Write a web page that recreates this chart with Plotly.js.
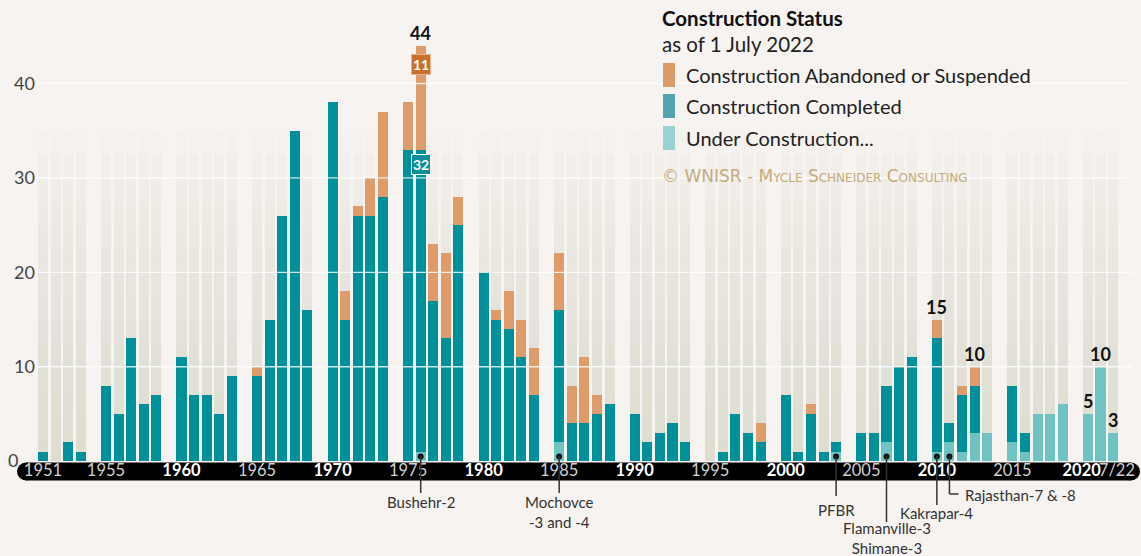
<!DOCTYPE html>
<html>
<head>
<meta charset="utf-8">
<script src="https://cdn.plot.ly/plotly-3.0.1.min.js"></script>
<style>
  html, body { margin: 0; padding: 0; background: #f6f3f1; }
  #plotDiv { width: 1141px; height: 556px; }
</style>
</head>
<body>
<div id="plotDiv"></div>
<script>
// construction starts per year, split by status (as of 1 July 2022)
var years = [1951,1952,1953,1954,1955,1956,1957,1958,1959,
             1960,1961,1962,1963,1964,1965,1966,1967,1968,1969,
             1970,1971,1972,1973,1974,1975,1976,1977,1978,1979,
             1980,1981,1982,1983,1984,1985,1986,1987,1988,1989,
             1990,1991,1992,1993,1994,1995,1996,1997,1998,1999,
             2000,2001,2002,2003,2004,2005,2006,2007,2008,2009,
             2010,2011,2012,2013,2014,2015,2016,2017,2018,2019,
             2020,2021,2022];
var underConstruction = [0,0,0,0,0,0,0,0,0,
                         0,0,0,0,0,0,0,0,0,0,
                         0,0,0,0,0,0,1,0,0,0,
                         0,0,0,0,0,2,0,0,0,0,
                         0,0,0,0,0,0,0,0,0,0,
                         0,0,0,0,1,0,0,2,0,0,
                         1,2,1,3,3,2,1,5,5,6,
                         5,10,3];
var completed = [1,0,2,1,8,5,13,6,7,
                 11,7,7,5,9,9,15,26,35,16,
                 38,15,26,26,28,33,32,17,13,25,
                 20,15,14,11,7,14,4,4,5,6,
                 5,2,3,4,2,0,1,5,3,2,
                 7,1,5,1,1,3,3,6,10,11,
                 12,2,6,5,0,6,2,0,0,0,
                 0,0,0];
var abandoned = [0,0,0,0,0,0,0,0,0,
                 0,0,0,0,0,1,0,0,0,0,
                 0,3,1,4,9,5,11,6,9,3,
                 0,1,4,4,5,6,4,7,2,0,
                 0,0,0,0,0,0,0,0,0,2,
                 0,0,1,0,0,0,0,0,0,0,
                 2,0,1,2,0,0,0,0,0,0,
                 0,0,0];

var tickYears  = [1951,1955,1960,1965,1970,1975,1980,1985,1990,1995,2000,2005,2010,2015,2020,2022];
var tickLabels = ['1951','1955','1960','1965','1970','1975','1980','1985','1990','1995','2000','2005','2010','2015','2020','7/22'];
var decadeYears = [1960,1970,1980,1990,2000,2010,2020];
var totalLabelYears = [1976, 2010, 2013, 2020, 2021, 2022];
var leaderYears = [1976, 1985, 2004, 2007, 2010, 2011];
var leaderNames = ['Bushehr-2', 'Mochovce<br>-3 and -4', 'PFBR', 'Flamanville-3<br>Shimane-3', 'Kakrapar-4', 'Rajasthan-7 &amp; -8'];
var legendNames = ['Construction Abandoned or Suspended', 'Construction Completed', 'Under Construction...'];

// colours
var cAband = '#dd9c69', cComp = '#00909a', cUC = '#6fc4c3';
var legendColors = ['#dc9c6a', '#52a5b0', '#98d2d2'];

// year -> slot on the axis (one empty slot after every 5-year group)
function slot(y) { return (y - 1951) + Math.floor((y - 1950) / 5); }
var xs = years.map(slot);

// pixel helpers for the decorations (plot area: x 36..1132, y 8..482)
function px2x(px) { return (px - 36) / 1096; }
function py2y(py) { return (482 - py) / 474; }

var baseComp = underConstruction.slice();
var baseAband = years.map(function(_, i) { return underConstruction[i] + completed[i]; });
var totals = years.map(function(_, i) { return baseAband[i] + abandoned[i]; });

var traces = [];
// faded background columns: stacked translucent layers give a vertical gradient
var BG_TOP = 35, BG_STEP = 2.5;
for (var h = BG_TOP; h > 0; h -= BG_STEP) {
  traces.push({
    type: 'bar', x: xs, y: years.map(function() { return h; }), width: 0.8,
    marker: {color: 'rgba(200,198,178,0.036)', line: {width: 0}},
    hoverinfo: 'skip'
  });
}
traces.push({type: 'bar', name: legendNames[2], x: xs, y: underConstruction, base: 0, width: 0.8,
             marker: {color: cUC, line: {width: 0}}});
traces.push({type: 'bar', name: legendNames[1], x: xs, y: completed, base: baseComp, width: 0.8,
             marker: {color: cComp, line: {width: 0}}});
traces.push({type: 'bar', name: legendNames[0], x: xs, y: abandoned, base: baseAband, width: 0.8,
             marker: {color: cAband, line: {width: 0}}});
// leader dots
traces.push({type: 'scatter', mode: 'markers', x: leaderYears.map(slot), y: leaderYears.map(function() { return 0.5; }),
             marker: {color: '#111', size: 6}, hoverinfo: 'skip'});

var shapes = [];
// white grid lines drawn over the bars
[10, 20, 30, 40].forEach(function(v) {
  shapes.push({type: 'line', layer: 'above', xref: 'paper', yref: 'y', x0: 0, x1: 1, y0: v, y1: v,
               line: {color: 'rgba(255,255,255,0.8)', width: 1.3}});
});
// black rounded axis band
shapes.push({type: 'rect', layer: 'below', xref: 'paper', yref: 'paper', x0: px2x(26), x1: px2x(1131),
             y0: py2y(480.5), y1: py2y(462.5), fillcolor: '#000', line: {width: 0}});
shapes.push({type: 'circle', layer: 'below', xref: 'paper', yref: 'paper', x0: px2x(17), x1: px2x(35),
             y0: py2y(480.5), y1: py2y(462.5), fillcolor: '#000', line: {width: 0}});
shapes.push({type: 'circle', layer: 'below', xref: 'paper', yref: 'paper', x0: px2x(1122), x1: px2x(1140),
             y0: py2y(480.5), y1: py2y(462.5), fillcolor: '#000', line: {width: 0}});

// leader lines + labels
var leaderEnd = [493, 493, 496, 522, 505, 494];
var leaderTextY = [502, 512, 510, 538, 513, 495];
var annotations = [];
leaderYears.forEach(function(yr, i) {
  var sx = slot(yr);
  shapes.push({type: 'line', layer: 'above', xref: 'x', yref: 'paper', x0: sx, x1: sx,
               y0: py2y(456), y1: py2y(leaderEnd[i]), line: {color: '#333', width: 1.5}});
  if (yr === 2011) {
    shapes.push({type: 'line', layer: 'above', xref: 'x', yref: 'paper', x0: sx, x1: sx + 0.72,
                 y0: py2y(leaderEnd[i]), y1: py2y(leaderEnd[i]), line: {color: '#333', width: 1.5}});
    annotations.push({xref: 'x', yref: 'paper', x: sx + 1.05, y: py2y(leaderTextY[i]), xanchor: 'left', yanchor: 'middle',
                      text: leaderNames[i], showarrow: false, font: {size: 15, color: '#333'}});
  } else {
    annotations.push({xref: 'x', yref: 'paper', x: sx, y: py2y(leaderTextY[i]), xanchor: 'center', yanchor: 'middle',
                      text: leaderNames[i], showarrow: false, font: {size: 15, color: '#333'}});
  }
});

// totals above selected bars
totalLabelYears.forEach(function(yr) {
  var i = years.indexOf(yr);
  annotations.push({x: slot(yr), y: totals[i], yanchor: 'bottom', text: '<b>' + totals[i] + '</b>',
                    showarrow: false, font: {size: 18, color: '#111'}});
});
// boxed segment values in the peak year
var iPeak = years.indexOf(1976);
annotations.push({x: slot(1976), y: totals[iPeak] - 2, text: '<b>' + abandoned[iPeak] + '</b>', showarrow: false,
                  bgcolor: '#c9702d', bordercolor: '#e9b48a', borderwidth: 1, borderpad: 1, font: {size: 14, color: '#fff'}});
annotations.push({x: slot(1976), y: baseAband[iPeak] - 1.6, text: '<b>' + completed[iPeak] + '</b>', showarrow: false,
                  bgcolor: '#0c8f99', bordercolor: '#ffffff', borderwidth: 1, borderpad: 1, font: {size: 14, color: '#fff'}});

// zero label
annotations.push({xref: 'paper', yref: 'paper', x: px2x(13), y: py2y(460), xanchor: 'center', yanchor: 'middle',
                  text: '0', showarrow: false, font: {size: 18, color: '#444'}});

// legend
annotations.push({xref: 'paper', yref: 'paper', x: px2x(660), y: py2y(18), xanchor: 'left', yanchor: 'middle',
                  text: '<b>Construction Status</b>', showarrow: false, font: {size: 20.5, color: '#111'}});
annotations.push({xref: 'paper', yref: 'paper', x: px2x(660), y: py2y(44), xanchor: 'left', yanchor: 'middle',
                  text: 'as of 1 July 2022', showarrow: false, font: {size: 20.5, color: '#222'}});
var legendY = [75, 106, 138];
legendNames.forEach(function(nm, i) {
  shapes.push({type: 'rect', xref: 'paper', yref: 'paper', x0: px2x(663), x1: px2x(675),
               y0: py2y(legendY[i] + 12), y1: py2y(legendY[i] - 12), fillcolor: legendColors[i], line: {width: 0}});
  annotations.push({xref: 'paper', yref: 'paper', x: px2x(684), y: py2y(legendY[i]), xanchor: 'left', yanchor: 'middle',
                    text: nm, showarrow: false, font: {size: 20, color: '#222'}});
});
annotations.push({xref: 'paper', yref: 'paper', x: px2x(660), y: py2y(176), xanchor: 'left', yanchor: 'middle',
                  text: '© WNISR - Mycle Schneider Consulting', showarrow: false,
                  font: {size: 17, color: '#c4ab7c', family: 'DejaVu Sans', variant: 'small-caps'}});

var layout = {
  width: 1141, height: 556,
  margin: {l: 36, r: 9, t: 8, b: 74, pad: 0},
  paper_bgcolor: '#f6f3f1', plot_bgcolor: 'rgba(0,0,0,0)',
  barmode: 'overlay', bargap: 0,
  showlegend: false,
  font: {family: 'Lato, sans-serif', color: '#333'},
  xaxis: {
    range: [-0.556, 86.5], showgrid: false, zeroline: false, showline: false, ticks: '',
    tickvals: tickYears.map(function(y) { return slot(y) + (y === 2020 ? -0.5 : (y === 2022 ? 0.3 : 0)); }),
    ticktext: tickLabels.map(function(t, i) {
      return decadeYears.indexOf(tickYears[i]) >= 0 ? '<b><span style="color:#ffffff">' + t + '</span></b>' : t;
    }),
    tickangle: 0,
    ticklabelposition: 'inside', ticklabeloverflow: 'allow',
    tickfont: {size: 16.5, color: '#cfcfcf'}
  },
  yaxis: {
    range: [-2.21, 48], showgrid: false, zeroline: false, showline: false, ticks: '',
    tickvals: [10, 20, 30, 40], tickfont: {size: 18, color: '#444'}
  },
  shapes: shapes,
  annotations: annotations
};

Plotly.newPlot('plotDiv', traces, layout, {displayModeBar: false, staticPlot: true});
</script>
</body>
</html>
